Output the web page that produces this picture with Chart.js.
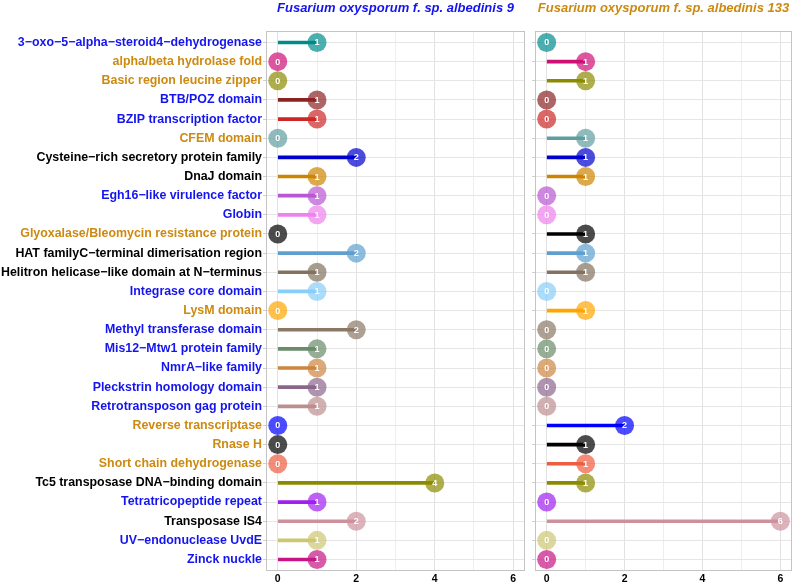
<!DOCTYPE html>
<html lang="en">
<head>
<meta charset="UTF-8">
<title>Protein domains - Fusarium oxysporum f. sp. albedinis</title>
<script src="https://cdn.jsdelivr.net/npm/chart.js"></script>
<style>
    html, body { margin: 0; padding: 0; background: #fff; overflow: hidden; }
    #wrap { position: relative; width: 793px; height: 583px; }
    #left { position: absolute; left: 0; top: 0; }
    #right { position: absolute; left: 528px; top: 0; }
</style>
</head>
<body>
<div id="wrap">
    <canvas id="left" width="528" height="583"></canvas>
    <canvas id="right" width="265" height="583"></canvas>
</div>
<script>
    // domain names, top to bottom
    const categories = [
        '3\u2212oxo\u22125\u2212alpha\u2212steroid4\u2212dehydrogenase',
        'alpha/beta hydrolase fold',
        'Basic region leucine zipper',
        'BTB/POZ domain',
        'BZIP transcription factor',
        'CFEM domain',
        'Cysteine\u2212rich secretory protein family',
        'DnaJ domain',
        'Egh16\u2212like virulence factor',
        'Globin',
        'Glyoxalase/Bleomycin resistance protein',
        'HAT familyC\u2212terminal dimerisation region',
        'Helitron helicase\u2212like domain at N\u2212terminus',
        'Integrase core domain',
        'LysM domain',
        'Methyl transferase domain',
        'Mis12\u2212Mtw1 protein family',
        'NmrA\u2212like family',
        'Pleckstrin homology domain',
        'Retrotransposon gag protein',
        'Reverse transcriptase',
        'Rnase H',
        'Short chain dehydrogenase',
        'Tc5 transposase DNA\u2212binding domain',
        'Tetratricopeptide repeat',
        'Transposase IS4',
        'UV\u2212endonuclease UvdE',
        'Zinck nuckle'
    ];

    const BLUE = '#1414f0', ORANGE = '#cd8a10', BLACK = '#000000';
    const labelColors = [
        BLUE, ORANGE, ORANGE, BLUE, BLUE, ORANGE, BLACK, BLACK, BLUE, BLUE,
        ORANGE, BLACK, BLACK, BLUE, ORANGE, BLUE, BLUE, BLUE, BLUE, BLUE,
        ORANGE, ORANGE, ORANGE, BLACK, BLUE, BLACK, BLUE, BLUE
    ];

    const lineColors = [
        '#008B8B', '#CD1076', '#8B8B00', '#8B2323', '#CD2626', '#5F9EA0', '#0000CD',
        '#CD8500', '#BA55D3', '#EE82EE', '#000000', '#5E9FCF', '#837260', '#87CEFA',
        '#FFA500', '#8B7765', '#698B69', '#CD853F', '#8B668B', '#BC8F8F', '#0000FF',
        '#000000', '#EE5C42', '#8B8B00', '#A020F0', '#CD919E', '#CDC673', '#C71585'
    ];

    const valuesAlb9 =   [1, 0, 0, 1, 1, 0, 2, 1, 1, 1, 0, 2, 1, 1, 0, 2, 1, 1, 1, 1, 0, 0, 0, 4, 1, 2, 1, 1];
    const valuesAlb133 = [0, 1, 1, 0, 0, 1, 1, 1, 0, 0, 1, 1, 1, 0, 1, 0, 0, 0, 0, 0, 2, 1, 1, 1, 0, 6, 0, 0];

    const xTicks = [0, 1, 2, 3, 4, 5, 6];

    function withAlpha(hex, a) {
        const n = parseInt(hex.slice(1), 16);
        return 'rgba(' + (n >> 16) + ',' + ((n >> 8) & 255) + ',' + (n & 255) + ',' + a + ')';
    }

    // value labels inside circles + full panel frame
    const lollipopExtras = {
        id: 'lollipopExtras',
        afterDatasetsDraw(chart) {
            const ctx = chart.ctx;
            const meta = chart.getDatasetMeta(0);
            ctx.save();
            ctx.fillStyle = '#ffffff';
            ctx.font = 'bold 9px "Liberation Sans", Arial, sans-serif';
            ctx.textAlign = 'center';
            ctx.textBaseline = 'middle';
            meta.data.forEach((pt, i) => {
                ctx.fillText(String(chart.data.datasets[0].data[i].x), pt.x, pt.y + 0.5);
            });
            const a = chart.chartArea;
            ctx.strokeStyle = '#c4c4c4';
            ctx.lineWidth = 1;
            ctx.strokeRect(a.left + 0.5, a.top + 0.5, a.right - a.left - 1, a.bottom - a.top - 1);
            ctx.restore();
        }
    };

    function makeChart(id, values, title, titleColor, showNames, axisWidth, padRight) {
        return new Chart(document.getElementById(id), {
            data: {
                datasets: [{
                    type: 'scatter',
                    order: 0,
                    data: values.map((v, i) => ({ x: v, y: i })),
                    pointRadius: 9.5,
                    pointHoverRadius: 9.5,
                    pointBorderWidth: 0,
                    pointBackgroundColor: lineColors.map(c => withAlpha(c, 0.7))
                }, {
                    type: 'bar',
                    order: 1,
                    data: values.map((v, i) => ({ x: [0, v], y: i })),
                    backgroundColor: lineColors,
                    barThickness: 3,
                    borderWidth: 0
                }]
            },
            options: {
                indexAxis: 'y',
                responsive: false,
                animation: false,
                layout: { autoPadding: false, padding: { left: 0, right: padRight, top: 0, bottom: 0 } },
                plugins: {
                    legend: { display: false },
                    tooltip: { enabled: false },
                    title: {
                        display: true,
                        fullSize: false,
                        text: title,
                        color: titleColor,
                        font: { family: '"Liberation Sans", Arial, sans-serif', size: 13, weight: 'bold', style: 'italic' },
                        padding: { top: 0.5, bottom: 14.9 }
                    }
                },
                scales: {
                    x: {
                        type: 'linear',
                        min: -0.3,
                        max: 6.3,
                        afterBuildTicks: s => { s.ticks = xTicks.map(v => ({ value: v })); },
                        afterFit: s => { s.height = 12; },
                        grid: {
                            color: c => (c.tick && c.tick.value % 2 === 0) ? '#e2e2e2' : '#eeeeee',
                            drawTicks: false
                        },
                        border: { display: false },
                        ticks: {
                            padding: 2,
                            color: '#000',
                            font: { family: '"Liberation Sans", Arial, sans-serif', size: 10.5, weight: 'bold' },
                            callback: v => (v % 2 === 0 ? String(v) : '')
                        }
                    },
                    y: {
                        type: 'linear',
                        reverse: true,
                        offset: false,
                        min: -0.6,
                        max: categories.length - 0.4,
                        afterBuildTicks: s => { s.ticks = categories.map((c, i) => ({ value: i })); },
                        afterFit: s => { s.width = axisWidth; },
                        grid: { offset: false, color: '#e6e6e6', tickLength: 3, tickColor: '#d0d0d0' },
                        border: { display: false },
                        ticks: {
                            display: showNames,
                            padding: 1,
                            autoSkip: false,
                            color: c => labelColors[c.tick ? c.tick.value : c.index],
                            font: { family: '"Liberation Sans", Arial, sans-serif', size: 12.4, weight: 'bold' },
                            callback: v => categories[v]
                        }
                    }
                }
            },
            plugins: [lollipopExtras]
        });
    }

    makeChart('left', valuesAlb9, 'Fusarium oxysporum f. sp. albedinis 9', '#1414f0', true, 266, 3);
    makeChart('right', valuesAlb133, 'Fusarium oxysporum f. sp. albedinis 133', '#cd8a10', false, 7, 1);
</script>
</body>
</html>
